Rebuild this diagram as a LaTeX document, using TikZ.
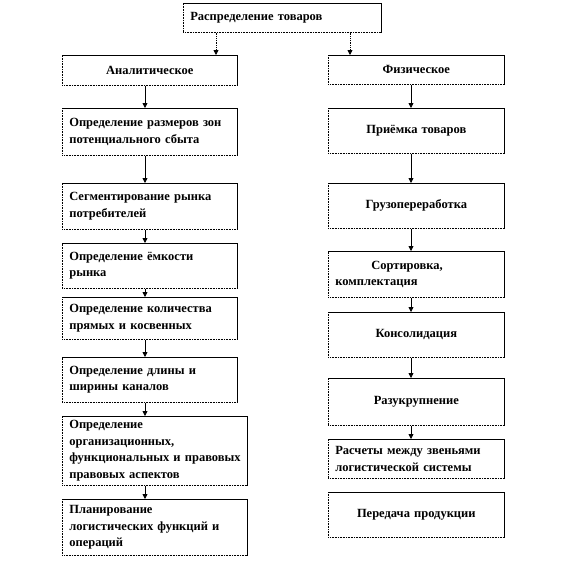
\documentclass[tikz,border=0pt]{standalone}
\usepackage{fontspec}
\setmainfont{Liberation Serif}
\usepackage{tikz}
\usetikzlibrary{positioning, arrows.meta, calc}

\begin{document}
\begin{tikzpicture}[x=1pt, y=-1pt, thick,
    box/.style={rectangle, draw=black, densely dotted, line width=0.6pt, anchor=north west,
        inner xsep=7pt, inner ysep=2pt, text=black, font=\bfseries\fontsize{12.5}{16.5}\selectfont},
    lbox/.style={box, text width=161pt, align=left},
    wbox/.style={box, inner xsep=3pt, text width=179pt, align=left},
    rbox/.style={box, text width=162pt, align=center},
    edge/.style={draw=black, line width=0.6pt, solid},
    arr/.style={-{Triangle[width=5pt,length=5pt]}, line width=0.8pt},
    darr/.style={arr, densely dotted}]
    \useasboundingbox (0,0) rectangle (565,579);

    \node[box, text width=184pt, align=left, minimum height=29pt] (top) at (183,3) {Распределение товаров};

    \node[lbox, align=center, minimum height=30pt] (a1) at (62,55) {Аналитическое};
    \node[lbox, minimum height=47pt] (a2) at (62,108) {Определение размеров зон\\потенциального сбыта};
    \node[lbox, minimum height=46pt] (a3) at (62,183) {Сегментирование рынка\\потребителей};
    \node[lbox, minimum height=45pt] (a4) at (62,243) {Определение ёмкости\\рынка};
    \node[lbox, minimum height=42pt] (a5) at (62,297) {Определение количества\\прямых и косвенных};
    \node[lbox, minimum height=45pt] (a6) at (62,357) {Определение длины и\\ширины каналов};
    \node[wbox, minimum height=69pt] (a7) at (62,416) {\hspace*{4pt}Определение\\\hspace*{4pt}организационных,\\\hspace*{4pt}функциональных и правовых\\\hspace*{4pt}правовых аспектов};
    \node[wbox, minimum height=56pt] (a8) at (62,499) {\hspace*{4pt}Планирование\\\hspace*{4pt}логистических функций и\\\hspace*{4pt}операций};

    \node[rbox, minimum height=29pt] (b1) at (328,55) {Физическое};
    \node[rbox, minimum height=45pt] (b2) at (328,108) {Приёмка товаров};
    \node[rbox, minimum height=45pt] (b3) at (328,183) {Грузопереработка};
    \node[rbox, align=left, minimum height=46pt] (b4) at (328,251) {\hspace*{36pt}Сортировка,\\комплектация};
    \node[rbox, minimum height=45pt] (b5) at (328,312) {Консолидация};
    \node[rbox, minimum height=47pt] (b6) at (328,378) {Разукрупнение};
    \node[rbox, align=left, minimum height=39pt] (b7) at (328,439) {Расчеты между звеньями\\логистической системы};
    \node[rbox, minimum height=45pt] (b8) at (328,492) {Передача продукции};

    \foreach \n in {top,a1,a2,a3,a4,a5,a6,a7,a8,b1,b2,b3,b4,b5,b6,b7,b8}
        \draw[edge] (\n.north west) -- (\n.north east) -- (\n.south east);

    \coordinate (t1) at ([xshift=33pt]top.south west);
    \coordinate (t2) at ([xshift=167pt]top.south west);
    \coordinate (lx) at (145,0);
    \coordinate (rx) at (411,0);

    \draw[darr] (t1) -- (t1 |- a1.north);
    \draw[darr] (t2) -- (t2 |- b1.north);
    \foreach \i [count=\j from 2] in {1,...,7}
        \draw[arr] (a\i.south -| lx) -- (a\j.north -| lx);
    \foreach \i [count=\j from 2] in {1,...,6}
        \draw[arr] (b\i.south -| rx) -- (b\j.north -| rx);
\end{tikzpicture}
\end{document}
